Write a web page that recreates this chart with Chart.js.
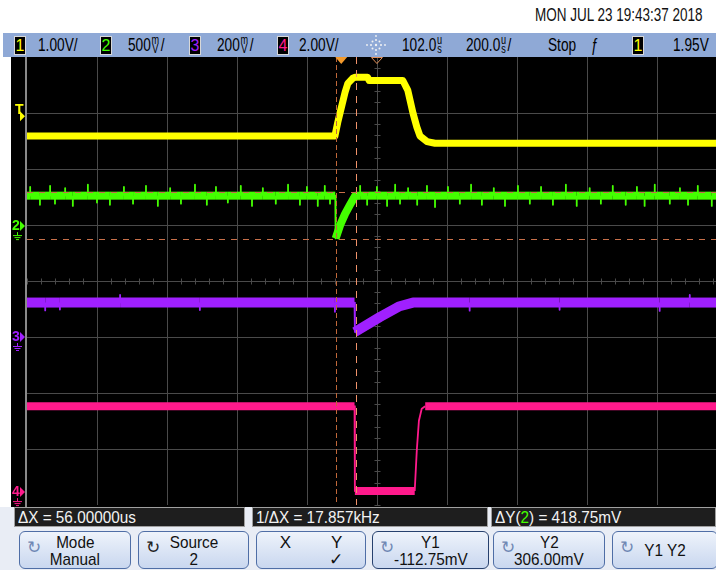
<!DOCTYPE html>
<html>
<head>
<meta charset="utf-8">
<script src="https://cdn.jsdelivr.net/npm/chart.js@4.4.0/dist/chart.umd.min.js"></script>
<style>
body{margin:0;width:716px;height:570px;overflow:hidden;background:#fff;position:relative;
  font-family:"Liberation Sans",Arial,sans-serif;}
.a{position:absolute;white-space:nowrap}
.n{display:inline-block;transform-origin:0 0}
#date{left:535px;top:5px;font-size:18px;color:#111}
#bar{left:3px;top:33px;width:713px;height:24px;background:#8fa9d6}
#bar .a{top:2px;font-size:18px;line-height:20px;color:#000}
#bar .n{transform:scaleX(0.76)}
#bar .box{top:3px;width:10px;height:17px;line-height:17px;background:#000;border:1px solid #d8d8d8;text-align:center;font-size:16px}
.stk{display:inline-block;vertical-align:top;font-size:12px;line-height:9px;text-align:center;margin:1px 2px 0 1px}
.stk i{display:block;font-style:normal}
#screen{left:11px;top:57px;width:705px;height:450px;background:#000}
#foot{left:0;top:507px;width:716px;height:63px;background:#e9edf5}
.ro{top:507px;height:20px;line-height:19px;background:#1e1e1e;border:1px solid #a0a0a0;color:#f2f2f2;font-size:17px;padding-left:3px;box-sizing:border-box}
.ro .n{transform:scaleX(0.9)}
.key{top:531px;height:38px;border:1px solid #4f6ea6;border-radius:6px;box-sizing:border-box;
  background:linear-gradient(#eef3fb,#c9d7ef);color:#111;font-size:17px;line-height:17px}
.key .l,.key .m{position:absolute;left:0;right:0;text-align:center}
.key .l{top:2px}
.key .m{top:19px}
.key .n{transform:scaleX(0.9);transform-origin:50% 0}
.ico{position:absolute;left:7px;top:7px;font-size:17px;color:#7088b4}
</style>
</head>
<body>
<div class="a" id="date"><span class="n" style="transform:scaleX(0.75)">MON JUL 23 19:43:37 2018</span></div>

<div class="a" id="bar">
  <div class="a box" style="left:11px;color:#ffff00">1</div>
  <div class="a" style="left:35px"><span class="n">1.00V/</span></div>
  <div class="a box" style="left:97px;color:#44ff00">2</div>
  <div class="a" style="left:125px"><span class="n">500<span class="stk"><i>m</i><i>V</i></span>/</span></div>
  <div class="a box" style="left:186px;color:#a020ff">3</div>
  <div class="a" style="left:214px"><span class="n">200<span class="stk"><i>m</i><i>V</i></span>/</span></div>
  <div class="a box" style="left:274px;color:#ff1a8c">4</div>
  <div class="a" style="left:296px"><span class="n">2.00V/</span></div>
  <svg class="a" style="left:362px;top:1px" width="22" height="22" viewBox="0 0 22 22">
    <g fill="#f4f4f4">
      <circle cx="11" cy="11" r="1.2"/><circle cx="11" cy="6" r="1"/><circle cx="11" cy="16" r="1"/>
      <circle cx="6" cy="11" r="1"/><circle cx="16" cy="11" r="1"/><circle cx="7.5" cy="7.5" r="1"/>
      <circle cx="14.5" cy="7.5" r="1"/><circle cx="7.5" cy="14.5" r="1"/><circle cx="14.5" cy="14.5" r="1"/>
      <circle cx="11" cy="2" r="0.9"/><circle cx="11" cy="20" r="0.9"/><circle cx="2" cy="11" r="0.9"/><circle cx="20" cy="11" r="0.9"/>
    </g>
  </svg>
  <div class="a" style="left:399px"><span class="n">102.0<span class="stk"><i>u</i><i>s</i></span></span></div>
  <div class="a" style="left:463px"><span class="n">200.0<span class="stk"><i>u</i><i>s</i></span>/</span></div>
  <div class="a" style="left:545px"><span class="n">Stop</span></div>
  <div class="a" style="left:588px"><span class="n">ƒ</span></div>
  <div class="a box" style="left:629px;color:#ffff00">1</div>
  <div class="a" style="left:670px"><span class="n">1.95V</span></div>
</div>

<div class="a" id="screen"><canvas id="scope" width="705" height="450"></canvas></div>

<div class="a" id="foot"></div>
<div class="a ro" style="left:14px;width:231px"><span class="n">ΔX = 56.00000us</span></div>
<div class="a ro" style="left:252px;width:236px"><span class="n">1/ΔX = 17.857kHz</span></div>
<div class="a ro" style="left:491px;width:225px"><span class="n">ΔY(<span style="color:#44ff00">2</span>) = 418.75mV</span></div>

<div class="a key" style="left:19px;width:112px"><span class="ico">↻</span><span class="l"><span class="n">Mode</span></span><span class="m"><span class="n">Manual</span></span></div>
<div class="a key" style="left:138px;width:111px"><span class="ico" style="color:#222">↻</span><span class="l"><span class="n">Source</span></span><span class="m"><span class="n">2</span></span></div>
<div class="a key" style="left:256px;width:110px"><span class="l"><span style="margin-right:40px">X</span>Y</span><span class="m" style="padding-left:50px">✓</span></div>
<div class="a key" style="left:372px;width:117px;border-color:#27416e"><span class="ico">↻</span><span class="l"><span class="n">Y1</span></span><span class="m"><span class="n">-112.75mV</span></span></div>
<div class="a key" style="left:493px;width:112px"><span class="ico">↻</span><span class="l"><span class="n">Y2</span></span><span class="m"><span class="n">306.00mV</span></span></div>
<div class="a key" style="left:612px;width:106px"><span class="ico">↻</span><span class="l" style="top:10px"><span class="n">Y1 Y2</span></span></div>

<script>
// timebase: 200 us/div, delay 102 us at screen centre
const timePerDiv = 200;
const delay = 102;
const tLeft = delay - 5 * timePerDiv;
const tRight = 1071;

// vertical setup per channel: volts/div and volts at screen centre
const voltsPerDiv = [1.0, 0.5, 0.2, 2.0];
const centerVolts = [-1.01, -0.49, 0.2, 7.54];
const trigLevel = 1.95;

// channel 1 (yellow)
const ch1Time  = [-898, -18, -10, 2, 11, 19, 33, 40, 75, 80, 176, 190, 205, 216, 225, 245, 268, 1071];
const ch1Volts = [1.58, 1.58, 1.82, 2.13, 2.36, 2.52, 2.61, 2.63, 2.63, 2.57, 2.57, 2.40, 1.99, 1.74, 1.58, 1.48, 1.45, 1.45];
// channel 2 (green)
const ch2Time  = [-898, -17, -16, -3, 11, 25, 40, 1071];
const ch2Volts = [0.272, 0.272, -0.11, 0.01, 0.11, 0.19, 0.272, 0.272];
// channel 2 noise spikes (time, peak volts)
const ch2SpikeTime = [-889, -861, -832, -818, -789, -767, -724, -698, -661, -621, -595, -558, -524, -489, -458,
  -418, -384, -358, -324, -287, -255, -224, -187, -152, -118, -98, -67, -47, -32,
  54, 74, 102, 131, 154, 168, 191, 217, 245, 268, 305, 339, 371, 402, 436, 468, 505, 539,
  571, 605, 642, 673, 710, 742, 776, 813, 845, 867, 896, 939, 968, 991, 1019, 1059];
const ch2SpikePeak = [0.35, 0.19, 0.36, 0.20, 0.34, 0.18, 0.37, 0.21, 0.19, 0.35, 0.20, 0.36, 0.18, 0.34, 0.20,
  0.37, 0.19, 0.35, 0.21, 0.36, 0.18, 0.34, 0.20, 0.37, 0.19, 0.35, 0.18, 0.36, 0.20,
  0.36, 0.19, 0.35, 0.18, 0.37, 0.20, 0.34, 0.19, 0.36, 0.17, 0.35, 0.20, 0.37, 0.19, 0.34, 0.18, 0.36, 0.20,
  0.35, 0.19, 0.37, 0.18, 0.34, 0.20, 0.36, 0.19, 0.35, 0.18, 0.37, 0.20, 0.34, 0.19, 0.36, 0.18];
// channel 3 (purple)
const ch3Time  = [-898, 38, 39, 110, 167, 205, 1071];
const ch3Volts = [0.123, 0.123, 0.018, 0.071, 0.110, 0.123, 0.123];
const ch3SpikeTime = [-846, -804, -632, -404, -18, 367, 624, 910, 996];
const ch3SpikePeak = [0.095, 0.098, 0.150, 0.096, 0.090, 0.094, 0.097, 0.093, 0.150];
// channel 4 (pink)
const ch4Time  = [-898, 38, 39, 210, 216, 222, 230, 240, 1071];
const ch4Volts = [3.07, 3.07, 0.04, 0.04, 1.50, 2.55, 2.98, 3.07, 3.07];

// cursors
const cursorX = [-15, 41];
const cursorY = [-0.11275, 0.306];

function valueAt(times, volts, t) {
  for (let i = 1; i < times.length; i++) {
    if (t <= times[i]) {
      const f = (t - times[i - 1]) / (times[i] - times[i - 1]);
      return volts[i - 1] + f * (volts[i] - volts[i - 1]);
    }
  }
  return volts[volts.length - 1];
}

function points(times, volts, spikeTimes = [], spikePeaks = []) {
  const pts = times.map((t, i) => ({x: t, y: volts[i]}));
  spikeTimes.forEach((t, i) => {
    const base = valueAt(times, volts, t);
    pts.push({x: t - 0.05, y: base}, {x: t, y: spikePeaks[i]}, {x: t + 0.05, y: base});
  });
  return pts.sort((p, q) => p.x - q.x);
}

function trace(data, axis, color, band, edgeDx) {
  return {
    data,
    yAxisID: axis,
    borderColor: color,
    borderWidth: band,
    borderJoinStyle: 'round',
    pointRadius: 0,
    tension: 0,
    segment: {
      borderWidth: c => Math.abs(c.p1.x - c.p0.x) < edgeDx ? 1.8 : band
    }
  };
}

function yAxis(i) {
  return {
    type: 'linear', axis: 'y', display: false,
    min: centerVolts[i] - 4 * voltsPerDiv[i],
    max: centerVolts[i] + 4 * voltsPerDiv[i]
  };
}

const graticule = {
  id: 'graticule',
  beforeDatasetsDraw(chart) {
    const {ctx, chartArea: a} = chart;
    const x = chart.scales.x, d = chart.scales.div;
    ctx.save();
    ctx.strokeStyle = '#4a4a4a';
    ctx.lineWidth = 1;
    ctx.beginPath();
    for (let k = 1; k <= 10; k++) {
      const px = Math.round(x.getPixelForValue(tLeft + k * timePerDiv)) + 0.5;
      if (px > a.right) break;
      ctx.moveTo(px, a.top); ctx.lineTo(px, a.bottom);
    }
    for (let k = -3; k <= 3; k++) {
      const py = Math.round(d.getPixelForValue(k)) + 0.5;
      ctx.moveTo(a.left, py); ctx.lineTo(a.right, py);
    }
    // minor ticks on the centre axes
    const cx = Math.round(x.getPixelForValue(delay)) + 0.5;
    const cy = Math.round(d.getPixelForValue(0)) + 0.5;
    for (let t = tLeft; t <= tRight; t += timePerDiv / 5) {
      const px = Math.round(x.getPixelForValue(t)) + 0.5;
      ctx.moveTo(px, cy - 3); ctx.lineTo(px, cy + 3);
    }
    for (let v = -4; v <= 4; v += 0.2) {
      const py = Math.round(d.getPixelForValue(v)) + 0.5;
      ctx.moveTo(cx - 3, py); ctx.lineTo(cx + 3, py);
    }
    ctx.stroke();
    ctx.strokeStyle = '#8a8a8a';
    ctx.lineWidth = 2;
    ctx.beginPath();
    ctx.moveTo(a.left - 1, a.top); ctx.lineTo(a.left - 1, a.bottom + 2);
    ctx.stroke();
    ctx.restore();
  }
};

function dashed(ctx, x0, y0, x1, y1, color, dash) {
  ctx.strokeStyle = color;
  ctx.setLineDash(dash);
  ctx.beginPath();
  ctx.moveTo(x0, y0); ctx.lineTo(x1, y1);
  ctx.stroke();
}

const markFont = 'bold 14px "Liberation Sans", Arial, sans-serif';

function groundMark(ctx, label, y, color) {
  ctx.fillStyle = color;
  ctx.strokeStyle = color;
  ctx.font = markFont;
  ctx.textBaseline = 'middle';
  ctx.fillText(label, 1, y);
  ctx.beginPath();
  ctx.moveTo(9, y - 5); ctx.lineTo(14, y); ctx.lineTo(9, y + 5); ctx.closePath();
  ctx.fill();
  ctx.lineWidth = 1;
  ctx.beginPath();
  ctx.moveTo(6.5, y + 6); ctx.lineTo(6.5, y + 9);
  ctx.moveTo(2, y + 9.5); ctx.lineTo(11, y + 9.5);
  ctx.moveTo(3.5, y + 11.5); ctx.lineTo(9.5, y + 11.5);
  ctx.moveTo(5, y + 13.5); ctx.lineTo(8, y + 13.5);
  ctx.stroke();
}

const overlay = {
  id: 'overlay',
  afterDatasetsDraw(chart) {
    const {ctx, chartArea: a, scales: s} = chart;
    ctx.save();
    ctx.lineWidth = 1;
    // time cursors
    const x1 = Math.round(s.x.getPixelForValue(cursorX[0])) + 0.5;
    const x2 = Math.round(s.x.getPixelForValue(cursorX[1])) + 0.5;
    dashed(ctx, x1, a.top, x1, a.bottom, '#c0683a', [5, 3]);
    dashed(ctx, x2, a.top, x2, a.bottom, '#f0926a', [7, 6]);
    // voltage cursors on channel 2
    for (const v of cursorY) {
      const py = Math.round(s.y2.getPixelForValue(v)) + 0.5;
      dashed(ctx, a.left, py, a.right, py, '#c8704a', [6, 6]);
    }
    ctx.setLineDash([]);
    // trigger point and delay reference
    const tp = s.x.getPixelForValue(0);
    ctx.fillStyle = '#f39a2c';
    ctx.beginPath();
    ctx.moveTo(tp - 6, a.top); ctx.lineTo(tp + 6, a.top); ctx.lineTo(tp, a.top + 7); ctx.closePath();
    ctx.fill();
    const dp = s.x.getPixelForValue(delay);
    ctx.strokeStyle = '#e0905a';
    ctx.beginPath();
    ctx.moveTo(dp - 5.5, a.top + 0.5); ctx.lineTo(dp + 5.5, a.top + 0.5); ctx.lineTo(dp, a.top + 6.5); ctx.closePath();
    ctx.stroke();
    // trigger level marker
    const ty = s.y1.getPixelForValue(trigLevel);
    ctx.fillStyle = '#ffff00';
    ctx.font = markFont;
    ctx.textBaseline = 'alphabetic';
    ctx.fillText('T', 4, ty - 1);
    ctx.beginPath();
    ctx.moveTo(9, ty - 4); ctx.lineTo(14, ty + 1); ctx.lineTo(9, ty + 6); ctx.closePath();
    ctx.fill();
    // ground markers
    groundMark(ctx, '2', s.y2.getPixelForValue(0), '#44ff00');
    groundMark(ctx, '3', s.y3.getPixelForValue(0), '#a020ff');
    groundMark(ctx, '4', s.y4.getPixelForValue(0), '#ff1a8c');
    ctx.restore();
  }
};

new Chart(document.getElementById('scope'), {
  type: 'line',
  data: {
    datasets: [
      trace(points(ch1Time, ch1Volts), 'y1', '#ffff00', 7, 0.5),
      trace(points(ch2Time, ch2Volts, ch2SpikeTime, ch2SpikePeak), 'y2', '#44ff00', 8, 0.5),
      trace(points(ch3Time, ch3Volts, ch3SpikeTime, ch3SpikePeak), 'y3', '#a020ff', 10, 0.5),
      trace(points(ch4Time, ch4Volts), 'y4', '#ff1a8c', 8, 3.5)
    ]
  },
  options: {
    responsive: false,
    animation: false,
    layout: {padding: {left: 16, top: 0, right: 0, bottom: 2}},
    scales: {
      x: {type: 'linear', display: false, min: tLeft, max: tRight},
      div: {type: 'linear', axis: 'y', display: false, min: -4, max: 4},
      y1: yAxis(0), y2: yAxis(1), y3: yAxis(2), y4: yAxis(3)
    },
    plugins: {legend: {display: false}, tooltip: {enabled: false}}
  },
  plugins: [graticule, overlay]
});
</script>
</body>
</html>
